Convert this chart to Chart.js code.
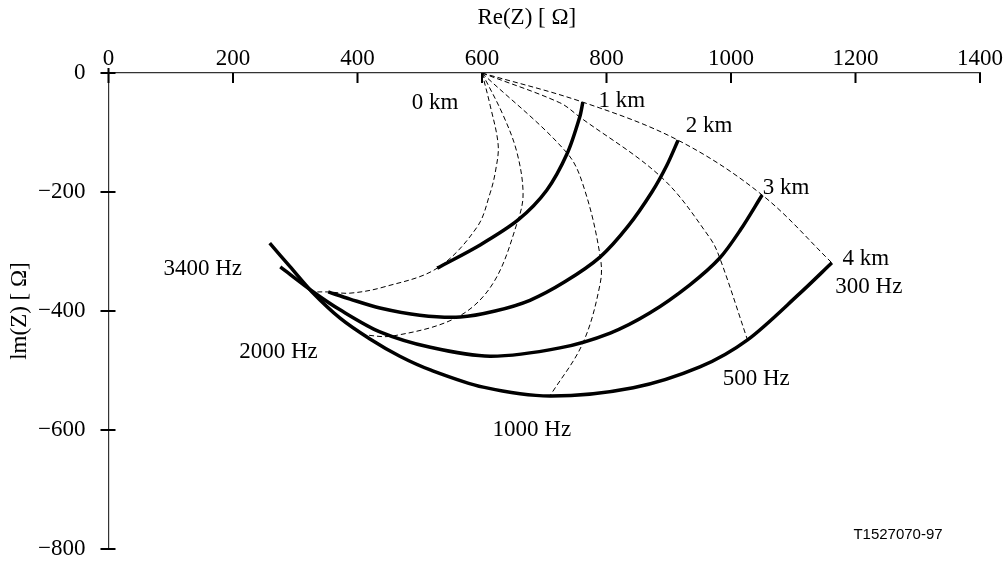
<!DOCTYPE html>
<html>
<head>
<meta charset="utf-8">
<script src="https://cdn.jsdelivr.net/npm/chart.js@4.4.1/dist/chart.umd.min.js"></script>
<style>
  html, body { margin: 0; padding: 0; background: #fff; }
  #wrap { width: 1006px; height: 566px; position: relative; }
</style>
</head>
<body>
<div id="wrap"><canvas id="impChart"></canvas></div>
<script>
// constant frequency curves (dashed), Re and Im in ohm, from 0 km to 4 km
const hz300Re = [600, 762, 915, 1050, 1162];
const hz300Im = [0, -49, -113, -205, -319];
const hz500Re = [600, 725, 757, 889, 966, 982, 1026];
const hz500Im = [0, -50, -74, -176, -277, -311, -447];
const hz1000Re = [600, 737, 766, 790, 790, 762, 709];
const hz1000Im = [0, -135, -200, -309, -353, -454, -543];
const hz2000Re = [600, 634, 656, 666, 658, 618, 561, 457, 408];
const hz2000Im = [0, -71, -133, -202, -247, -353, -410, -442, -440];
const hz3400Re = [600, 613, 626, 622, 613, 592, 528, 441, 388, 353, 329];
const hz3400Im = [0, -54, -121, -163, -202, -259, -328, -360, -370, -368, -368];

// constant length curves (solid), 300 Hz -> 3400 Hz
const km1Re = [762, 757, 737, 704, 658, 597, 528];
const km1Im = [-49, -74, -135, -197, -247, -289, -328];
const km2Re = [915, 897, 873, 835, 790, 733, 677, 621, 565, 500, 436, 388, 353];
const km2Im = [-113, -155, -200, -257, -309, -351, -382, -400, -410, -407, -395, -380, -368];
const km3Re = [1050, 1015, 982, 934, 870, 806, 725, 613, 517, 436, 372, 329, 276];
const km3Im = [-205, -264, -311, -356, -403, -437, -462, -476, -461, -435, -398, -368, -326];
const km4Re = [1162, 1111, 1026, 950, 843, 709, 602, 517, 468, 420, 372, 327, 292, 259];
const km4Im = [-319, -370, -449, -494, -529, -543, -528, -499, -476, -447, -412, -368, -326, -286];

const xTicks = [0, 200, 400, 600, 800, 1000, 1200, 1400];
const yTicks = [0, -200, -400, -600, -800];

function pts(re, im) {
  return re.map((v, i) => ({ x: v, y: im[i] }));
}

function dashed(re, im) {
  return {
    data: pts(re, im), showLine: true, pointRadius: 0,
    borderColor: '#000', borderWidth: 1, borderDash: [5, 3],
    tension: 0.35, order: 2
  };
}
function solid(re, im) {
  return {
    data: pts(re, im), showLine: true, pointRadius: 0,
    borderColor: '#000', borderWidth: 3.5,
    tension: 0.3, order: 1
  };
}

// text labels hung on curve ends, offsets in pixels
const labels = [
  { t: '0 km', x: hz300Re[0], y: hz300Im[0], dx: -47, dy: 30 },
  { t: '1 km', x: km1Re[0], y: km1Im[0], dx: 39, dy: -1 },
  { t: '2 km', x: km2Re[0], y: km2Im[0], dx: 31, dy: -14 },
  { t: '3 km', x: km3Re[0], y: km3Im[0], dx: 24, dy: -7 },
  { t: '4 km', x: km4Re[0], y: km4Im[0], dx: 34, dy: -4 },
  { t: '300 Hz', x: hz300Re[4], y: hz300Im[4], dx: 37, dy: 24 },
  { t: '500 Hz', x: hz500Re[6], y: hz500Im[6], dx: 9, dy: 40 },
  { t: '1000 Hz', x: hz1000Re[6], y: hz1000Im[6], dx: -18, dy: 34 },
  { t: '2000 Hz', x: hz2000Re[8], y: hz2000Im[8], dx: -84, dy: 17 },
  { t: '3400 Hz', x: km4Re[13], y: km4Im[13], dx: -67, dy: 26 }
];

const serif = 'Liberation Serif, Times New Roman, serif';

const extras = {
  id: 'extras',
  afterDraw(chart) {
    const ctx = chart.ctx;
    const ca = chart.chartArea;
    const xs = chart.scales.x;
    const ys = chart.scales.y;
    ctx.save();
    // tick marks
    ctx.strokeStyle = '#000';
    ctx.lineWidth = 2;
    ctx.beginPath();
    xTicks.forEach(v => {
      const px = xs.getPixelForValue(v);
      ctx.moveTo(px, ca.top - (v === 0 ? 5 : 0));
      ctx.lineTo(px, ca.top + 10);
    });
    yTicks.forEach(v => {
      const py = ys.getPixelForValue(v);
      ctx.moveTo(ca.left - 8, py);
      ctx.lineTo(ca.left + 7, py);
    });
    ctx.stroke();

    ctx.fillStyle = '#000';
    ctx.font = '23px ' + serif;
    ctx.textAlign = 'center';
    ctx.textBaseline = 'middle';
    labels.forEach(l => {
      ctx.fillText(l.t, xs.getPixelForValue(l.x) + l.dx, ys.getPixelForValue(l.y) + l.dy);
    });

    // axis titles
    ctx.fillText('Re(Z) [ \u03A9]', ca.left + ca.width * 0.48, 18);
    ctx.save();
    ctx.translate(20, (ca.top + ca.bottom) / 2);
    ctx.rotate(-Math.PI / 2);
    ctx.fillText('lm(Z) [ \u03A9]', 0, 0);
    ctx.restore();

    ctx.font = '15px Liberation Sans, Arial, sans-serif';
    ctx.fillText('T1527070-97', ca.right - 82, ca.bottom - 14);
    ctx.restore();
  }
};

Chart.defaults.font.family = serif;
Chart.defaults.font.size = 23;
Chart.defaults.color = '#000';

const config = {
  type: 'scatter',
  data: {
    datasets: [
      dashed(hz300Re, hz300Im),
      dashed(hz500Re, hz500Im),
      dashed(hz1000Re, hz1000Im),
      dashed(hz2000Re, hz2000Im),
      dashed(hz3400Re, hz3400Im),
      solid(km1Re, km1Im),
      solid(km2Re, km2Im),
      solid(km3Re, km3Im),
      solid(km4Re, km4Im)
    ]
  },
  options: {
    responsive: true,
    maintainAspectRatio: false,
    animation: false,
    layout: { padding: { top: 0, left: 0, right: 26, bottom: 17 } },
    plugins: { legend: { display: false }, tooltip: { enabled: false } },
    scales: {
      x: {
        type: 'linear', position: 'top', min: 0, max: 1400,
        afterBuildTicks: s => { s.ticks = xTicks.map(v => ({ value: v })); },
        afterFit: s => { s.height = 73; },
        grid: { display: false, drawTicks: false },
        border: { display: true, color: '#333', width: 1.2 },
        ticks: { padding: 0, maxRotation: 0, callback: v => String(v) }
      },
      y: {
        type: 'linear', position: 'left', min: -800, max: 0,
        afterBuildTicks: s => { s.ticks = yTicks.map(v => ({ value: v })); },
        afterFit: s => { s.width = 108.5; s.paddingTop = 0; s.paddingBottom = 0; },
        grid: { display: false, drawTicks: false },
        border: { display: true, color: '#333', width: 1.2 },
        ticks: {
          padding: 23,
          callback: v => (v < 0 ? '\u2212' + Math.abs(v) : String(v))
        }
      }
    }
  },
  plugins: [extras]
};

new Chart(document.getElementById('impChart'), config);
</script>
</body>
</html>
